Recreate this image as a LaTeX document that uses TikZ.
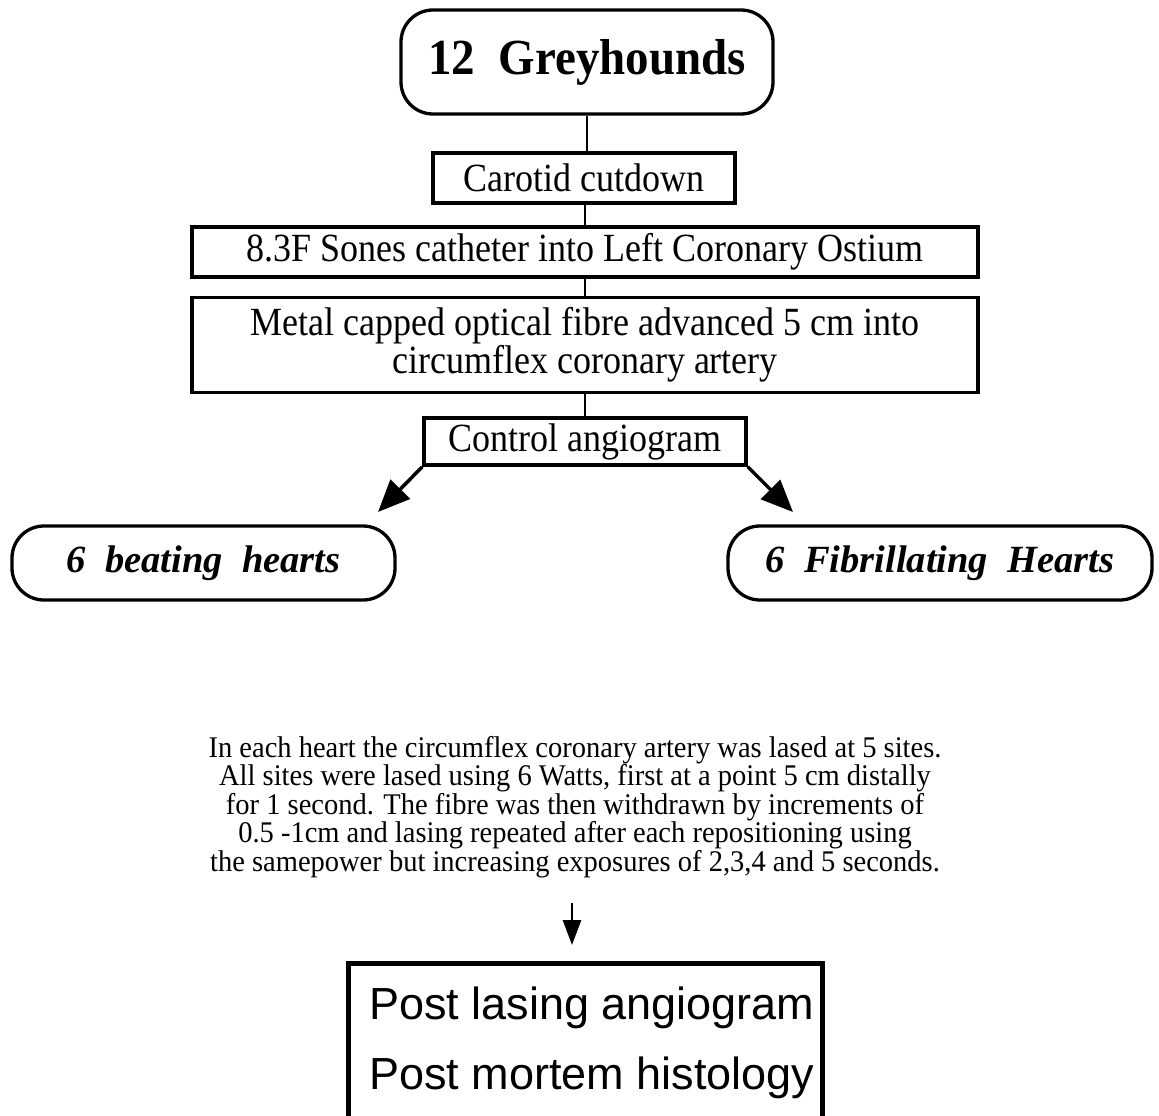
\documentclass[tikz,border=0pt]{standalone}
\usepackage{fontspec}
\setmainfont{Liberation Serif}
\newfontfamily\condfont[FakeStretch=0.9]{Liberation Serif}
\newfontfamily\paracond[FakeStretch=0.95]{Liberation Serif}
\newfontfamily\boldcond[FakeStretch=0.93]{Liberation Serif Bold}
\newfontfamily\hvfont{Liberation Sans}
\newcommand\myparafont{\paracond\fontsize{30}{28.5}\selectfont\lineskiplimit=-60pt\relax}
\usetikzlibrary{arrows.meta}
\begin{document}
\begin{tikzpicture}[x=1pt,y=-1pt,
  box/.style={draw, line width=3.5pt, inner sep=0pt, font=\condfont\fontsize{40}{41}\selectfont},
  rbox/.style={draw, line width=3.3pt, rounded corners=32pt, inner sep=0pt},
  conn/.style={line width=2.8pt},
  arr/.style={line width=3.5pt, -{Triangle[length=32pt,width=27pt]}},
  darr/.style={line width=2.8pt, -{Triangle[length=25pt,width=18pt]}}]
\clip (0,0) rectangle (1159,1116);
\node[rbox, minimum width=372pt, minimum height=104pt, font=\boldcond\fontsize{50.5}{52}\selectfont] (grey) at (587,62) {12\ \ Greyhounds};
\node[box, minimum width=302pt, minimum height=50pt] (carotid) at (584,178) {Carotid cutdown};
\node[box, minimum width=786pt, minimum height=50pt] (ostium) at (585,252) {8.3F Sones catheter into Left Coronary Ostium};
\node[box, minimum width=786pt, minimum height=95pt, align=center, font=\condfont\fontsize{40}{38}\selectfont] (metal) at (585,345) {Metal capped optical fibre advanced 5 cm into\\ circumflex coronary artery};
\node[box, minimum width=322pt, minimum height=47pt] (control) at (585,441.5) {Control angiogram};
\node[rbox, minimum width=383pt, minimum height=74pt, font=\fontsize{38.5}{40}\selectfont\bfseries\itshape] (beat) at (203.5,563) {6\ \ beating\ \ hearts};
\node[rbox, minimum width=424pt, minimum height=74pt, font=\fontsize{38.5}{40}\selectfont\bfseries\itshape] (fib) at (940,563) {6\ \ Fibrillating\ \ Hearts};
\node[anchor=north, align=center, inner sep=0pt, font=\myparafont] (para) at (575,736) {In each heart the circumflex coronary artery was lased at 5 sites.\\
All sites were lased using 6 Watts, first at a point 5 cm distally\\
for 1 second. The fibre was then withdrawn by increments of\\
0.5 -1cm and lasing repeated after each repositioning using\\
the samepower but increasing exposures of 2,3,4 and 5 seconds.};
\node[draw, line width=5pt, inner sep=0pt, minimum width=474pt, minimum height=200pt] (post) at (585,1063) {};
\node[anchor=north west, align=left, inner sep=0pt, font=\hvfont\fontsize{45}{70}\selectfont] (posttext) at (369,987) {Post lasing angiogram\\ Post mortem histology};
\coordinate (tipL) at (378,512);
\coordinate (tipR) at (793,512);
\coordinate (dtop) at (572,903);
\coordinate (dtip) at (572,945);
\draw[conn] (grey.south) -- (grey.south |- carotid.north);
\draw[conn] (carotid.south -| ostium.north) -- (ostium.north);
\draw[conn] (ostium.south) -- (metal.north);
\draw[conn] (metal.south) -- (control.north);
\draw[arr] (control.south west) -- (tipL);
\draw[arr] (control.south east) -- (tipR);
\draw[darr] (dtop) -- (dtip);
\end{tikzpicture}
\end{document}
